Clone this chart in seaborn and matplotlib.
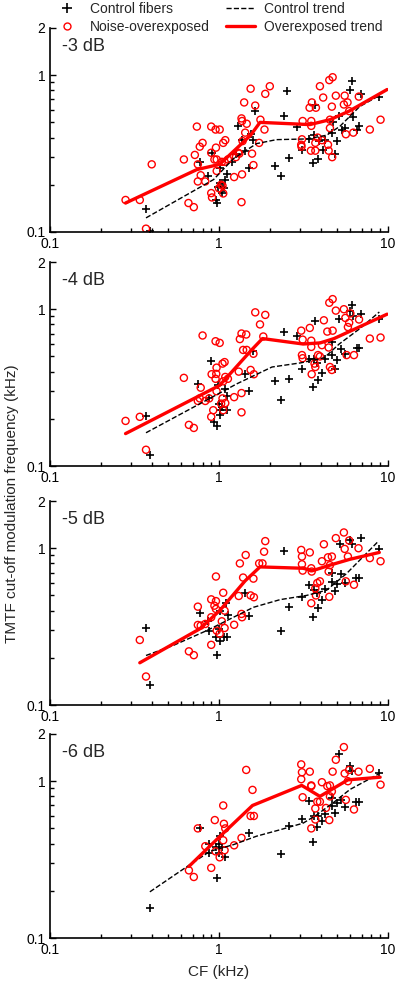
import matplotlib
matplotlib.use("Agg")
import matplotlib.pyplot as plt
from matplotlib.lines import Line2D
from matplotlib.ticker import FixedLocator, NullFormatter
import seaborn as sns

sns.set_theme(style="ticks")
plt.rcParams['font.family'] = ['Liberation Sans', 'DejaVu Sans']

# -3 dB
ctrl_cf_3 = [0.37, 0.39, 0.77, 0.865, 0.905, 0.955, 0.97, 0.99, 1.01, 1.04, 1.07, 1.08, 1.11, 1.01, 1.04, 1.20, 1.26, 1.30,
             1.37, 1.42, 1.50, 1.55, 1.60, 1.64, 2.14, 2.32, 2.44, 2.54, 2.61, 2.91, 3.10, 3.42, 3.58, 3.68, 3.65, 3.84,
             3.92, 4.14, 4.26, 4.66, 4.71, 4.86, 4.97, 5.15, 5.34, 5.54, 5.96, 6.10, 6.24, 6.53, 6.75, 6.89, 8.89]
ctrl_tmtf_3 = [0.141, 0.101, 0.28, 0.228, 0.32, 0.161, 0.152, 0.194, 0.204, 0.194, 0.191, 0.214, 0.233, 0.254, 0.176, 0.28,
               0.316, 0.475, 0.385, 0.33, 0.254, 0.424, 0.385, 0.59, 0.263, 0.228, 0.55, 0.79, 0.298, 0.468, 0.335, 0.39,
               0.276, 0.65, 0.414, 0.294, 0.381, 0.332, 0.388, 0.428, 0.50, 0.316, 0.381, 0.55, 0.446, 0.457, 0.81, 0.92,
               0.54, 0.45, 0.472, 0.76, 0.73]
noise_cf_3 = [0.28, 0.34, 0.40, 0.37, 0.62, 0.66, 0.71, 0.72, 0.74, 0.75, 0.77, 0.78, 0.80, 0.75, 0.83, 0.90, 0.90, 0.955,
              1.01, 0.96, 0.94, 0.97, 1.04, 1.06, 1.09, 1.08, 1.13, 0.90, 0.91, 0.97, 1.03, 1.05, 1.06, 1.00, 1.23, 1.37,
              1.36, 1.32, 1.36, 1.41, 1.43, 1.46, 1.37, 1.54, 1.64, 1.57, 1.60, 1.73, 1.76, 1.86, 1.88, 2.00, 1.26, 1.30,
              1.38, 3.13, 3.10, 3.07, 3.08, 3.44, 3.55, 3.52, 3.52, 3.75, 3.96, 4.14, 3.72, 3.84, 3.50, 3.72, 4.07, 4.42,
              4.46, 4.54, 4.54, 4.50, 4.71, 4.66, 4.68, 4.92, 5.49, 5.55, 5.64, 5.77, 5.90, 6.24, 6.73, 7.82, 9.05]
noise_tmtf_3 = [0.16, 0.16, 0.27, 0.105, 0.29, 0.153, 0.144, 0.31, 0.47, 0.27, 0.35, 0.23, 0.37, 0.21, 0.21, 0.47, 0.32,
                0.45, 0.45, 0.345, 0.29, 0.29, 0.28, 0.37, 0.385, 0.28, 0.29, 0.177, 0.166, 0.245, 0.20, 0.197, 0.176,
                0.19, 0.224, 0.233, 0.155, 0.316, 0.53, 0.67, 0.43, 0.49, 0.51, 0.82, 0.64, 0.316, 0.267, 0.37, 0.52,
                0.45, 0.76, 0.85, 0.30, 0.32, 0.38, 0.51, 0.39, 0.36, 0.35, 0.62, 0.67, 0.51, 0.475, 0.62, 0.85, 0.72,
                0.37, 0.40, 0.33, 0.33, 0.385, 0.36, 0.33, 0.46, 0.52, 0.93, 0.97, 0.63, 0.30, 0.74, 0.65, 0.74, 0.42,
                0.67, 0.59, 0.43, 0.73, 0.45, 0.52]
ctrl_trend_cf_3 = [0.37, 0.93, 1.22, 1.67, 2.19, 3.30, 4.34, 5.2, 6.8, 8.97]
ctrl_trend_tmtf_3 = [0.123, 0.216, 0.294, 0.366, 0.388, 0.392, 0.414, 0.472, 0.63, 0.745]
over_trend_cf_3 = [0.28, 0.74, 1.01, 1.54, 1.75, 3.45, 4.54, 5.90, 9.9]
over_trend_tmtf_3 = [0.153, 0.25, 0.27, 0.414, 0.50, 0.484, 0.52, 0.59, 0.81]

# -4 dB
ctrl_cf_4 = [0.37, 0.39, 0.755, 0.87, 0.90, 0.94, 0.97, 0.99, 1.00, 1.01, 1.04, 1.09, 1.11, 1.12, 1.01, 1.42, 1.50, 1.60,
             2.14, 2.32, 2.42, 2.61, 2.91, 3.10, 3.42, 3.58, 3.68, 3.65, 3.84, 3.82, 4.10, 4.26, 4.66, 4.66, 4.86, 4.97,
             5.15, 5.3, 5.6, 5.96, 6.10, 6.24, 6.6, 6.75, 6.89, 8.89]
ctrl_tmtf_4 = [0.21, 0.117, 0.335, 0.272, 0.468, 0.191, 0.18, 0.327, 0.25, 0.211, 0.238, 0.312, 0.279, 0.227, 0.227,
               0.385, 0.30, 0.54, 0.347, 0.263, 0.72, 0.36, 0.67, 0.415, 0.484, 0.32, 0.84, 0.484, 0.352, 0.455, 0.392,
               0.478, 0.62, 0.51, 0.415, 0.472, 0.87, 0.56, 0.52, 0.975, 1.06, 0.90, 0.57, 0.565, 0.93, 0.87]
noise_cf_4 = [0.28, 0.34, 0.37, 0.62, 0.664, 0.71, 0.75, 0.77, 0.78, 0.80, 0.83, 0.875, 0.90, 0.905, 0.925, 0.955, 0.968,
              0.955, 0.964, 0.968, 1.01, 1.05, 1.08, 1.06, 1.09, 1.13, 1.03, 1.05, 1.09, 1.06, 1.23, 1.31, 1.36, 1.36,
              1.33, 1.36, 1.45, 1.39, 1.46, 1.54, 1.61, 1.60, 1.64, 1.75, 1.83, 1.88, 3.07, 3.10, 3.13, 3.13, 3.45, 3.52,
              3.52, 3.54, 3.68, 3.72, 3.86, 3.96, 4.18, 4.07, 4.38, 4.54, 4.71, 4.66, 4.46, 4.50, 4.71, 4.92, 5.49, 5.6,
              5.7, 5.9, 5.8, 6.3, 6.75, 7.82, 9.05, 6.0]
noise_tmtf_4 = [0.194, 0.206, 0.127, 0.365, 0.183, 0.175, 0.26, 0.27, 0.316, 0.68, 0.26, 0.27, 0.206, 0.385, 0.227, 0.625,
                0.424, 0.36, 0.387, 0.30, 0.61, 0.45, 0.46, 0.347, 0.37, 0.36, 0.25, 0.27, 0.252, 0.227, 0.275, 0.40,
                0.292, 0.22, 0.645, 0.70, 0.69, 0.55, 0.55, 0.41, 0.385, 0.52, 0.955, 0.80, 0.67, 0.92, 0.73, 0.51,
                0.487, 0.64, 0.76, 0.63, 0.575, 0.385, 0.45, 0.428, 0.51, 0.50, 0.85, 0.59, 0.72, 0.428, 0.73, 0.41,
                0.57, 1.10, 1.16, 0.98, 1.00, 0.88, 0.51, 0.82, 0.77, 0.51, 0.86, 0.65, 0.66, 0.94]
ctrl_trend_cf_4 = [0.37, 0.855, 1.28, 2.06, 3.05, 4.2, 5.15, 6.8, 8.9]
ctrl_trend_tmtf_4 = [0.163, 0.265, 0.335, 0.428, 0.455, 0.49, 0.60, 0.75, 0.96]
over_trend_cf_4 = [0.28, 1.01, 1.56, 1.81, 3.15, 3.98, 4.8, 9.9]
over_trend_tmtf_4 = [0.161, 0.327, 0.55, 0.65, 0.60, 0.61, 0.65, 0.93]

# -5 dB
ctrl_cf_5 = [0.37, 0.39, 0.77, 0.865, 0.875, 0.955, 0.97, 1.00, 1.02, 1.02, 1.07, 1.10, 1.13, 1.11, 1.42, 1.50, 2.32,
             2.44, 2.61, 3.10, 3.42, 3.58, 3.65, 3.79, 3.84, 4.1, 4.26, 4.66, 4.66, 4.86, 4.97, 5.2, 5.3, 5.6, 5.96, 6.12,
             6.5, 6.75, 6.89, 8.89]
ctrl_tmtf_5 = [0.31, 0.135, 0.385, 0.345, 0.295, 0.27, 0.208, 0.306, 0.255, 0.397, 0.27, 0.45, 0.375, 0.273, 0.52, 0.368,
               0.298, 0.955, 0.424, 0.49, 0.58, 0.366, 0.54, 0.517, 0.415, 0.47, 0.55, 0.69, 0.61, 0.53, 0.59, 1.06,
               0.68, 0.60, 1.13, 1.06, 0.65, 0.65, 1.16, 0.99]
noise_cf_5 = [0.34, 0.37, 0.664, 0.71, 0.75, 0.75, 0.78, 0.83, 0.90, 0.90, 0.96, 0.96, 0.94, 0.96, 0.90, 0.97, 1.04, 1.06,
              1.08, 1.08, 1.01, 1.23, 1.31, 1.33, 1.36, 1.37, 1.39, 1.44, 1.54, 1.61, 1.60, 1.73, 1.81, 1.85, 1.88, 3.07,
              3.10, 3.10, 3.13, 3.45, 3.52, 3.54, 3.52, 3.72, 3.75, 3.82, 3.96, 4.07, 4.18, 4.42, 4.54, 4.66, 4.50, 4.46,
              4.92, 5.49, 5.55, 5.64, 5.8, 5.9, 6.3, 6.7, 7.82, 9.05]
noise_tmtf_5 = [0.26, 0.152, 0.22, 0.208, 0.424, 0.324, 0.321, 0.329, 0.472, 0.242, 0.66, 0.46, 0.43, 0.41, 0.363, 0.298,
                0.342, 0.52, 0.40, 0.31, 0.285, 0.325, 0.496, 0.80, 0.381, 0.363, 0.65, 0.905, 0.50, 0.487, 0.64, 0.80,
                0.80, 0.95, 1.11, 0.975, 0.885, 0.79, 0.72, 0.94, 0.745, 0.71, 0.446, 0.555, 0.50, 0.60, 0.615, 0.826,
                1.06, 0.875, 0.78, 0.885, 0.49, 0.71, 1.16, 1.26, 0.99, 0.615, 0.885, 1.12, 0.585, 1.0, 0.865, 0.826]
ctrl_trend_cf_5 = [0.37, 0.537, 0.845, 1.11, 1.60, 2.30, 3.30, 4.34, 5.7, 8.8]
ctrl_trend_tmtf_5 = [0.207, 0.24, 0.298, 0.345, 0.42, 0.47, 0.50, 0.54, 0.69, 1.11]
over_trend_cf_5 = [0.34, 0.77, 1.01, 1.43, 1.75, 3.15, 3.6, 4.54, 5.96, 8.9]
over_trend_tmtf_5 = [0.186, 0.306, 0.40, 0.62, 0.76, 0.745, 0.72, 0.78, 0.85, 0.94]

# -6 dB
ctrl_cf_6 = [0.39, 0.77, 0.87, 0.87, 0.955, 0.975, 1.00, 1.01, 1.00, 1.04, 1.09, 1.50, 2.32, 2.61, 3.10, 3.42, 3.58, 3.65,
             3.82, 3.84, 4.1, 4.26, 4.66, 4.66, 4.86, 4.97, 5.15, 5.3, 5.6, 5.96, 6.15, 6.5, 6.75, 8.89]
ctrl_tmtf_6 = [0.155, 0.50, 0.40, 0.35, 0.38, 0.24, 0.395, 0.446, 0.35, 0.38, 0.327, 0.468, 0.343, 0.52, 0.57, 0.745,
               0.41, 0.60, 0.51, 0.60, 0.56, 0.62, 0.78, 0.69, 0.63, 0.73, 1.49, 0.76, 0.68, 1.25, 1.16, 0.74, 0.74, 1.12]
noise_cf_6 = [0.664, 0.71, 0.75, 0.83, 0.90, 0.955, 0.945, 1.01, 1.06, 1.07, 1.09, 1.06, 1.08, 1.23, 1.36, 1.45, 1.58,
              1.54, 1.61, 3.07, 3.10, 3.07, 3.13, 3.45, 3.52, 3.52, 3.52, 3.72, 3.72, 3.82, 3.96, 4.07, 4.3, 4.38, 4.54,
              4.50, 4.54, 4.66, 4.71, 4.92, 5.49, 5.55, 5.64, 5.8, 5.9, 6.3, 6.7, 7.82, 9.05]
noise_tmtf_6 = [0.27, 0.245, 0.50, 0.385, 0.28, 0.357, 0.565, 0.327, 0.70, 0.535, 0.50, 0.42, 0.363, 0.39, 0.435, 1.18,
                0.88, 0.60, 0.60, 1.28, 1.14, 1.03, 0.79, 1.15, 0.94, 0.93, 0.50, 0.67, 0.57, 0.74, 0.74, 0.985, 0.675,
                0.93, 0.94, 0.565, 0.80, 0.86, 1.15, 1.37, 1.65, 1.12, 0.76, 1.0, 1.18, 0.66, 1.15, 1.2, 0.95]
ctrl_trend_cf_6 = [0.39, 0.674, 0.885, 1.22, 1.67, 2.30, 3.15, 3.79, 4.76, 5.96, 8.8]
ctrl_trend_tmtf_6 = [0.197, 0.294, 0.357, 0.394, 0.446, 0.49, 0.54, 0.61, 0.73, 0.885, 1.11]
over_trend_cf_6 = [0.664, 1.01, 1.58, 3.09, 3.96, 4.6, 5.8, 9.0]
over_trend_tmtf_6 = [0.286, 0.443, 0.70, 0.94, 0.80, 0.88, 1.02, 1.06]

panel_labels = ["-3 dB", "-4 dB", "-5 dB", "-6 dB"]
panels = [
    (ctrl_cf_3, ctrl_tmtf_3, noise_cf_3, noise_tmtf_3, ctrl_trend_cf_3, ctrl_trend_tmtf_3, over_trend_cf_3, over_trend_tmtf_3),
    (ctrl_cf_4, ctrl_tmtf_4, noise_cf_4, noise_tmtf_4, ctrl_trend_cf_4, ctrl_trend_tmtf_4, over_trend_cf_4, over_trend_tmtf_4),
    (ctrl_cf_5, ctrl_tmtf_5, noise_cf_5, noise_tmtf_5, ctrl_trend_cf_5, ctrl_trend_tmtf_5, over_trend_cf_5, over_trend_tmtf_5),
    (ctrl_cf_6, ctrl_tmtf_6, noise_cf_6, noise_tmtf_6, ctrl_trend_cf_6, ctrl_trend_tmtf_6, over_trend_cf_6, over_trend_tmtf_6),
]

fig = plt.figure(figsize=(3.97, 9.88), dpi=100)
fig.patch.set_facecolor("white")

bottoms = [0.7652, 0.5283, 0.2864, 0.0506]
for i, (label, data) in enumerate(zip(panel_labels, panels)):
    ccf, ct, ncf, nt, tcf, tt, ocf, ot = data
    ax = fig.add_axes([0.126, bottoms[i], 0.851, 0.2065])
    ax.set_facecolor("white")
    sns.scatterplot(x=ccf, y=ct, ax=ax, marker="+", color="black", s=40, linewidth=1.2)
    sns.scatterplot(x=ncf, y=nt, ax=ax, marker="o", color="red", facecolor="none", edgecolor="red",
                    s=26, linewidth=1.0)
    sns.lineplot(x=tcf, y=tt, ax=ax, sort=False, estimator=None, color="black", linestyle="--", linewidth=1.0)
    sns.lineplot(x=ocf, y=ot, ax=ax, sort=False, estimator=None, color="red", linewidth=2.4)

    ax.set_xscale("log")
    ax.set_yscale("log")
    ax.set_xlim(0.1, 10)
    ax.set_ylim(0.1, 2)
    ax.set_xticks([0.1, 1, 10])
    ax.set_xticklabels(["0.1", "1", "10"])
    ax.set_yticks([0.1, 1, 2])
    ax.set_yticklabels(["0.1", "1", "2"])
    ax.xaxis.set_minor_locator(FixedLocator([0.2, 0.3, 0.4, 0.5, 0.6, 0.7, 0.8, 0.9, 2, 3, 4, 5, 6, 7, 8, 9]))
    ax.yaxis.set_minor_locator(FixedLocator([0.2, 0.3, 0.4, 0.5, 0.6, 0.7, 0.8, 0.9]))
    ax.xaxis.set_minor_formatter(NullFormatter())
    ax.yaxis.set_minor_formatter(NullFormatter())
    ax.tick_params(which="both", direction="in", labelsize=10, colors="black", width=1)
    ax.tick_params(which="major", length=4)
    ax.tick_params(which="minor", length=3)
    for side in ["top", "right"]:
        ax.spines[side].set_visible(False)
    for side in ["left", "bottom"]:
        ax.spines[side].set_color("black")
        ax.spines[side].set_linewidth(1.2)
    ax.grid(False)
    ax.text(0.035, 0.95, label, transform=ax.transAxes, fontsize=13, va="top", ha="left")
    ax.set_xlabel("")
    ax.set_ylabel("")

ax.set_xlabel("CF (kHz)", fontsize=11, labelpad=6)
fig.text(0.03, 0.49, "TMTF cut-off modulation frequency (kHz)", rotation=90, fontsize=11,
         ha="center", va="center")

handles = [
    Line2D([], [], marker="+", color="black", linestyle="none", markersize=7, markeredgewidth=1.2),
    Line2D([], [], marker="o", color="red", markerfacecolor="none", linestyle="none", markersize=5,
           markeredgewidth=1.0),
    Line2D([], [], color="black", linestyle="--", linewidth=1.0),
    Line2D([], [], color="red", linewidth=2.4),
]
labels = ["Control fibers", "Noise-overexposed", "Control trend", "Overexposed trend"]
fig.legend(handles, labels, loc="upper left", bbox_to_anchor=(0.131, 0.998), ncol=2, frameon=False,
           fontsize=10, handlelength=2.1, handletextpad=0.6, columnspacing=1.2, labelspacing=0.3,
           borderpad=0, borderaxespad=0)

fig.savefig("out.png", dpi=100, facecolor="white")
